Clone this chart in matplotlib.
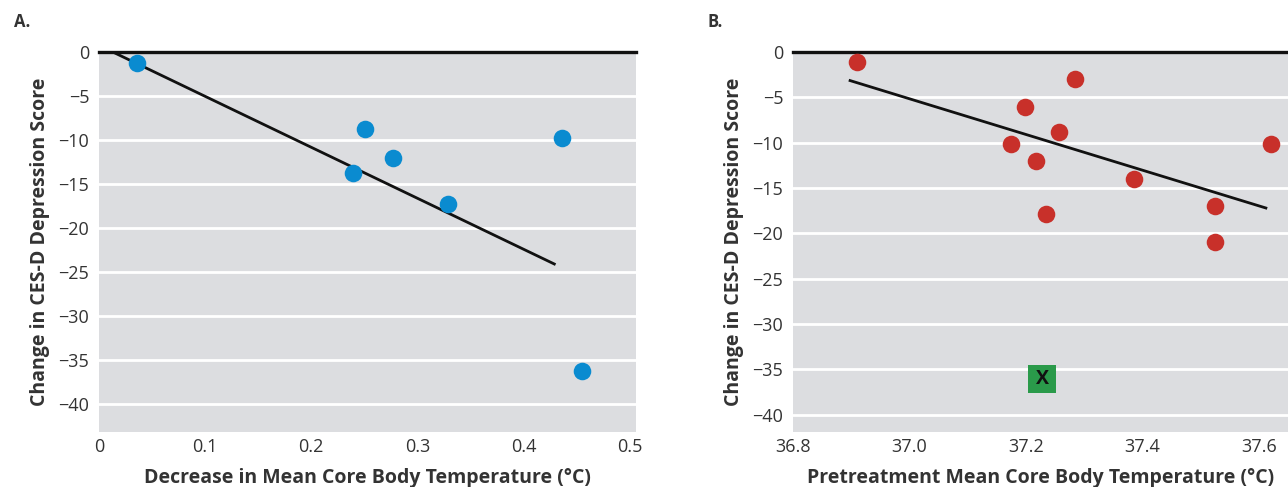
import numpy as np
import matplotlib.pyplot as plt

plt.rcParams['font.family'] = ['Open Sans', 'DejaVu Sans']

# panel A: decrease in temperature vs change in CES-D
decrease_temp = [0.036, 0.251, 0.239, 0.277, 0.329, 0.436, 0.455]
change_a = [-1.2, -8.8, -13.7, -12.1, -17.3, -9.8, -36.3]
fit_a_x = [0.013, 0.429]
fit_a_y = [0.0, -24.1]

# panel B: pretreatment temperature vs change in CES-D
pre_temp = [36.91, 37.285, 37.198, 37.256, 37.175, 37.217, 37.386, 37.234, 37.525, 37.525, 37.62]
change_b = [-1.1, -3.0, -6.1, -8.8, -10.1, -12.0, -14.0, -17.9, -17.0, -21.0, -10.1]
fit_b_x = [36.898, 37.612]
fit_b_y = [-3.15, -17.2]
outlier_x = [37.228]
outlier_y = [-36.1]

yticks = [0, -5, -10, -15, -20, -25, -30, -35, -40]
ytick_labels = ['0', '\u22125', '\u221210', '\u221215', '\u221220', '\u221225', '\u221230', '\u221235', '\u221240']

bg = '#dcdde0'
txt = '#333333'

fig = plt.figure(figsize=(12.88, 4.87), dpi=100)
axA = fig.add_axes([0.0769, 0.1129, 0.4169, 0.7803])
axB = fig.add_axes([0.6157, 0.1129, 0.3843, 0.7803])


def style(ax, ylo):
    ax.set_facecolor(bg)
    ax.set_ylim(ylo, 0)
    ax.set_yticks(yticks)
    ax.set_yticklabels(ytick_labels)
    ax.grid(axis='y', color='white', linewidth=2)
    ax.set_axisbelow(True)
    for s in ['left', 'right', 'bottom']:
        ax.spines[s].set_visible(False)
    ax.spines['top'].set_linewidth(2.4)
    ax.spines['top'].set_color('#111111')
    ax.tick_params(axis='x', length=0, labelsize=13, labelcolor=txt, pad=4)
    ax.tick_params(axis='y', length=0, labelsize=13, labelcolor=txt, pad=7)
    ax.set_ylabel('Change in CES-D Depression Score', fontsize=14,
                  fontweight='bold', color=txt, labelpad=6)


style(axA, -43.2)
axA.set_xlim(0, 0.506)
axA.set_xticks([0, 0.1, 0.2, 0.3, 0.4, 0.5])
axA.set_xticklabels(['0', '0.1', '0.2', '0.3', '0.4', '0.5'])
axA.plot(fit_a_x, fit_a_y, color='#111111', linewidth=2)
axA.scatter(decrease_temp, change_a, s=160, color='#0a8bd0', zorder=3, linewidths=0)
axA.set_xlabel('Decrease in Mean Core Body Temperature (\u00b0C)', fontsize=14,
               fontweight='bold', color=txt, labelpad=9)

style(axB, -41.9)
axB.set_xlim(36.8, 37.65)
axB.set_xticks([36.8, 37.0, 37.2, 37.4, 37.6])
axB.set_xticklabels(['36.8', '37.0', '37.2', '37.4', '37.6'])
axB.plot(fit_b_x, fit_b_y, color='#111111', linewidth=2)
axB.scatter(pre_temp, change_b, s=160, color='#c8302a', zorder=3, linewidths=0)
axB.scatter(outlier_x, outlier_y, s=400, marker='s', color='#2a9a4a', zorder=3, linewidths=0)
axB.text(outlier_x[0], outlier_y[0], 'X', ha='center', va='center', fontsize=14,
         fontweight='bold', color='#111111', zorder=4)
axB.set_xlabel('Pretreatment Mean Core Body Temperature (\u00b0C)', fontsize=14,
               fontweight='bold', color=txt, labelpad=9)

fig.text(0.011, 0.955, 'A.', fontsize=12, fontweight='bold', color=txt, va='center')
fig.text(0.549, 0.955, 'B.', fontsize=12, fontweight='bold', color=txt, va='center')

fig.savefig('out.png', dpi=100)
